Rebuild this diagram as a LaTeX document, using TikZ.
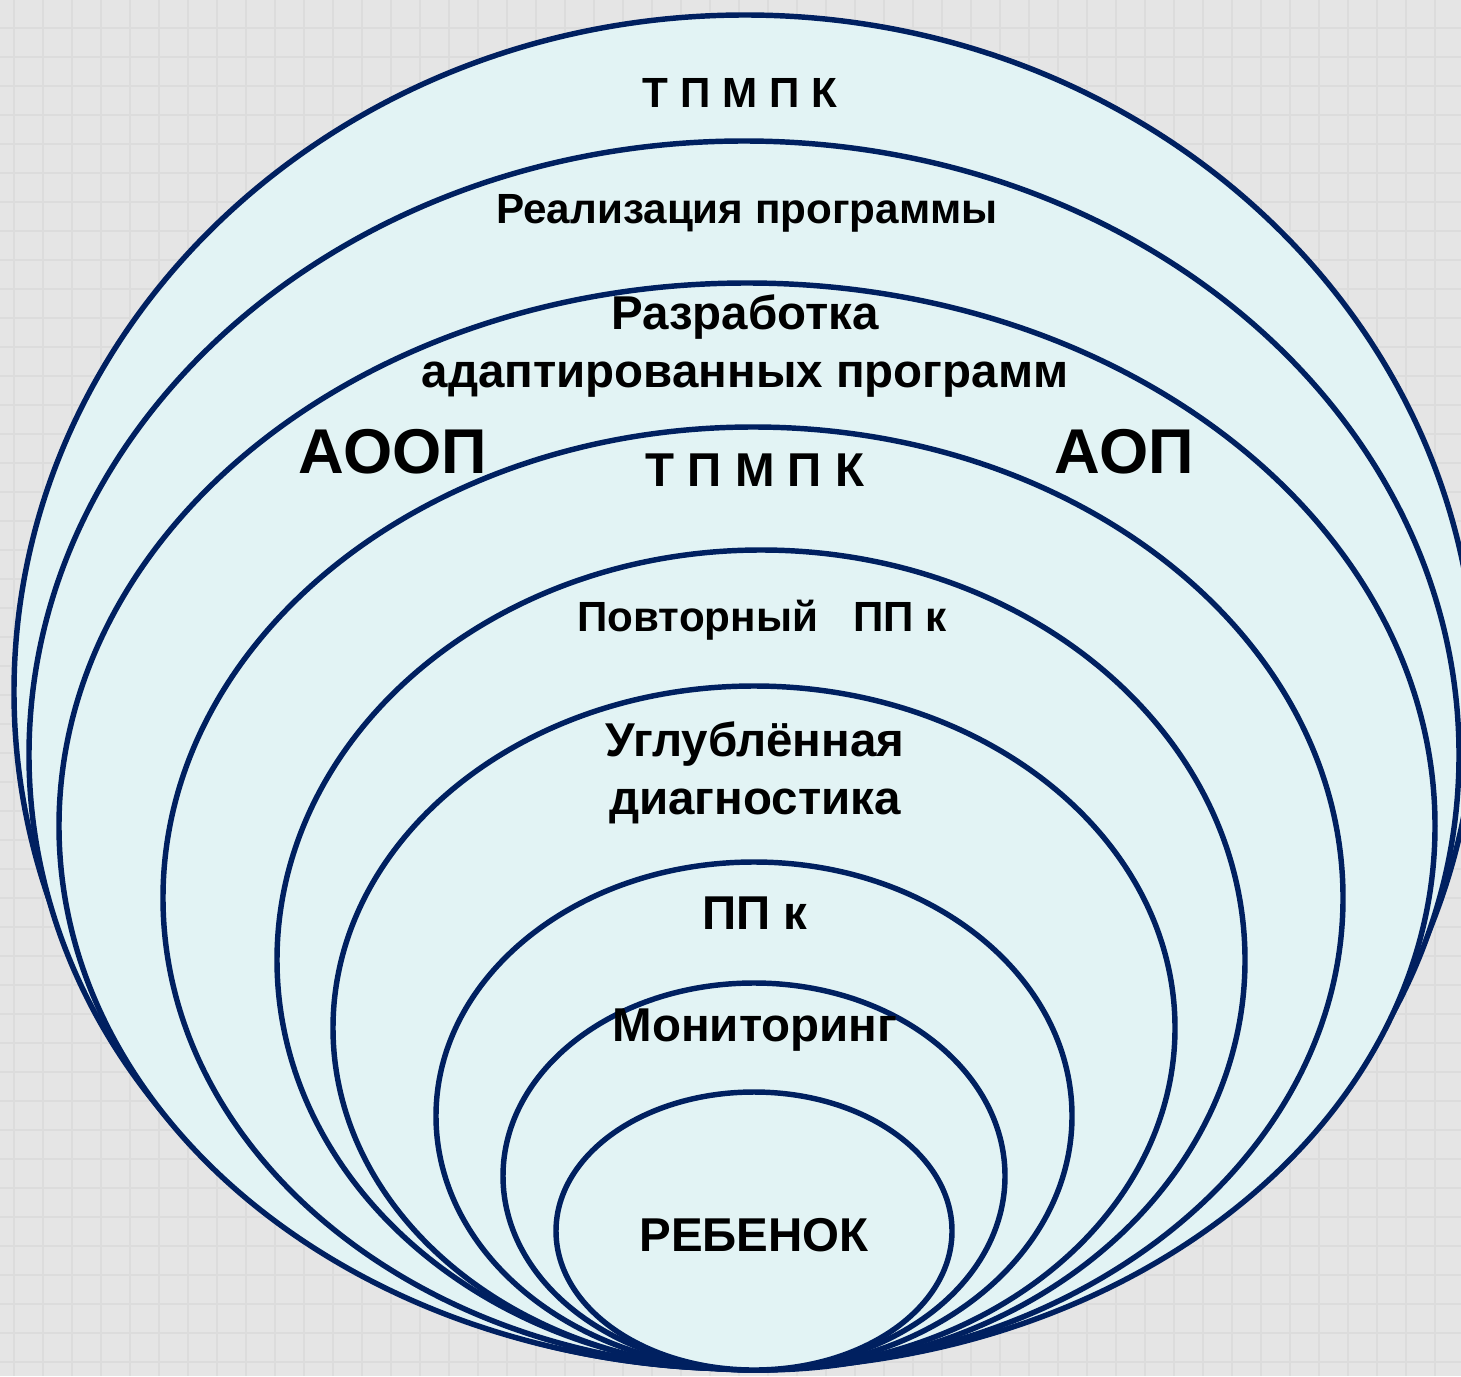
\documentclass[tikz,border=0pt]{standalone}
\usepackage{fontspec}
\setmainfont{Liberation Sans}
\definecolor{ringline}{HTML}{002060}
\definecolor{ringfill}{HTML}{E2F3F4}
\definecolor{paper}{HTML}{E5E5E5}
\definecolor{paperline}{HTML}{DCDCDC}

\begin{document}
\begin{tikzpicture}[x=0.01cm, y=-0.01cm,
    ring/.style={draw=ringline, fill=ringfill, line width=1.55pt},
    stage/.style={inner sep=0pt, align=center, text=black},
    stage 12/.style={stage, font=\bfseries\fontsize{12}{14}\selectfont},
    stage 13/.style={stage, font=\bfseries\fontsize{13.5}{16.5}\selectfont},
    stage 18/.style={stage, font=\bfseries\fontsize{18}{20}\selectfont}]
  \useasboundingbox (0,0) rectangle (1461,1376);
  \fill[paper] (0,0) rectangle (1461,1376);
  \foreach \k in {14,43,...,1461} \draw[paperline, line width=0.6pt] (\k,0) -- (\k,1376);
  \foreach \k in {28,57,...,1376} \draw[paperline, line width=0.6pt] (0,\k) -- (1461,\k);
  \clip (0,0) rectangle (1461,1376);
  \foreach \cx/\cy/\rx/\ry in {745/692/731/677, 744/755/715/614, 747/826/688/543,
      753/898/590/471, 761/960/484/410, 754/1028/421/342,
      754/1116/318/254, 754/1176/251/193, 754/1231/198/139}
    \draw[ring] (\cx,\cy) ellipse [x radius=\rx, y radius=\ry];
  \node[stage 12] (tpmpkA) at (740,93) {Т П М П К};
  \node[stage 12] (realiz) at (747,213) {Реализация программы};
  \node[stage 13] (razrab) at (745,346) {Разработка\\адаптированных программ};
  \node[stage 18] (aoop) at (393,452) {АООП};
  \node[stage 18] (aop) at (1124,452) {АОП};
  \node[stage 13] (tpmpkB) at (755,470) {Т П М П К};
  \node[stage 12] (povtor) at (762,620) {Повторный\ \ \ ПП к};
  \node[stage 13] (diagn) at (755,773) {Углублённая\\диагностика};
  \node[stage 13] (ppk) at (755,913) {ПП к};
  \node[stage 13] (monit) at (755,1030) {Мониторинг};
  \node[stage 13] (rebenok) at (754,1235) {РЕБЕНОК};
\end{tikzpicture}
\end{document}
